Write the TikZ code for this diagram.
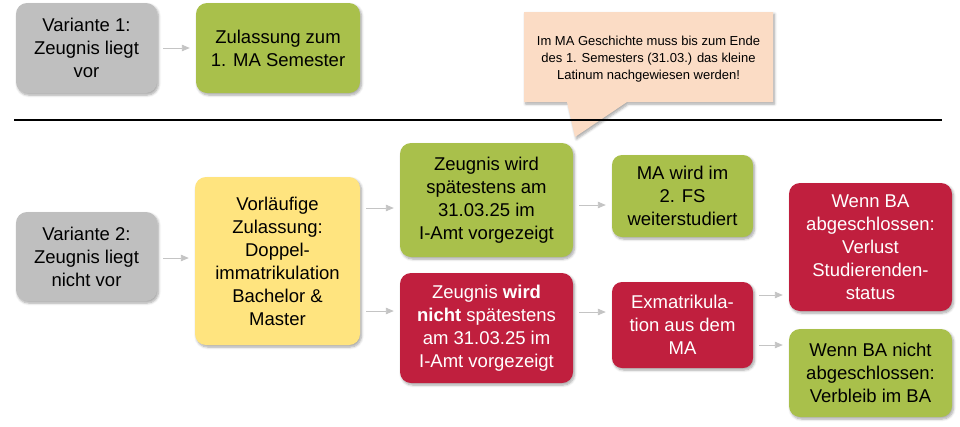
\documentclass[tikz,border=0pt]{standalone}
\usepackage{fontspec}
\setmainfont{Liberation Sans}
\usetikzlibrary{arrows.meta,shadows.blur}
\definecolor{boxgray}{HTML}{BFBFBF}
\definecolor{boxgreen}{HTML}{A9C04B}
\definecolor{boxred}{HTML}{C01F3E}
\definecolor{boxyellow}{HTML}{FFE47F}
\definecolor{boxpeach}{HTML}{FBDCC5}
\definecolor{arrgray}{HTML}{C4C4C4}
\tikzset{
  shad/.style={blur shadow={shadow xshift=1.5pt, shadow yshift=-2pt, shadow blur steps=6, shadow opacity=35, shadow blur radius=2.5pt}},
  box/.style={rounded corners=11pt, inner sep=0pt, align=center, shad,
    font=\fontsize{18.5}{23}\selectfont},
  graybox/.style={box, fill=boxgray, text=black},
  greenbox/.style={box, fill=boxgreen, text=black},
  redbox/.style={box, fill=boxred, text=white},
  yellowbox/.style={box, fill=boxyellow, text=black},
  conn/.style={draw=arrgray, line width=0.9pt, -{Triangle[length=8pt,width=6.5pt]}, shorten <=6pt, shorten >=6pt},
}
\begin{document}
\begin{tikzpicture}[x=1pt,y=-1pt]
\useasboundingbox (0,0) rectangle (960,426);
% top row
\node[graybox, minimum width=141pt, minimum height=90pt] (v1) at (86.5,48) {Variante 1:\\Zeugnis liegt\\vor};
\node[greenbox, minimum width=164pt, minimum height=90pt] (zul) at (278,48) {Zulassung zum\\1. MA Semester};
\draw[conn] (v1) -- (zul);
% callout
\path[fill=boxpeach, shad] (524,12) -- (773,12) -- (773,102) -- (627,102) -- (575,137) -- (567,102) -- (524,102) -- cycle;
\node[align=center, inner sep=0pt, font=\fontsize{13}{17}\selectfont] (call) at (648.5,59) {Im MA Geschichte muss bis zum Ende\\des 1. Semesters (31.03.) das kleine\\Latinum nachgewiesen werden!};
% separator
\coordinate (sepL) at (14,120);
\coordinate (sepR) at (942,120);
\draw[line width=1.3pt] (sepL) -- (sepR);
% bottom part
\node[graybox, minimum width=141pt, minimum height=89pt] (v2) at (86.5,256.5) {Variante 2:\\Zeugnis liegt\\nicht vor};
\node[yellowbox, minimum width=165pt, minimum height=168pt] (vorl) at (277.5,261) {Vorläufige\\Zulassung:\\Doppel-\\immatrikulation\\Bachelor \&\\Master};
\node[greenbox, minimum width=173pt, minimum height=114pt] (g1) at (486.5,200) {Zeugnis wird\\spätestens am\\31.03.25 im\\I-Amt vorgezeigt};
\node[redbox, minimum width=173pt, minimum height=110pt] (r1) at (486.5,328) {Zeugnis \textbf{wird}\\\textbf{nicht} spätestens\\am 31.03.25 im\\I-Amt vorgezeigt};
\node[greenbox, minimum width=141pt, minimum height=82pt, rounded corners=10pt] (ma) at (682.5,196) {MA wird im\\2. FS\\weiterstudiert};
\node[redbox, minimum width=141pt, minimum height=86pt, rounded corners=10pt] (ex) at (682.5,325) {Exmatrikula-\\tion aus dem\\MA};
\node[redbox, minimum width=163pt, minimum height=128pt] (wa) at (870.5,247) {Wenn BA\\abgeschlossen:\\Verlust\\Studierenden-\\status};
\node[greenbox, minimum width=163pt, minimum height=88pt] (wb) at (870.5,373) {Wenn BA nicht\\abgeschlossen:\\Verbleib im BA};
\draw[conn] (v2.east |- 0,258) -- (vorl.west |- 0,258);
\draw[conn] (vorl.east |- 0,208) -- (g1.west |- 0,208);
\draw[conn] (vorl.east |- 0,311) -- (r1.west |- 0,311);
\draw[conn] (g1.east |- 0,205) -- (ma.west |- 0,205);
\draw[conn] (r1.east |- 0,312) -- (ex.west |- 0,312);
\draw[conn] (ex.east |- 0,295) -- (wa.west |- 0,295);
\draw[conn] (ex.east |- 0,345) -- (wb.west |- 0,345);
\end{tikzpicture}
\end{document}
